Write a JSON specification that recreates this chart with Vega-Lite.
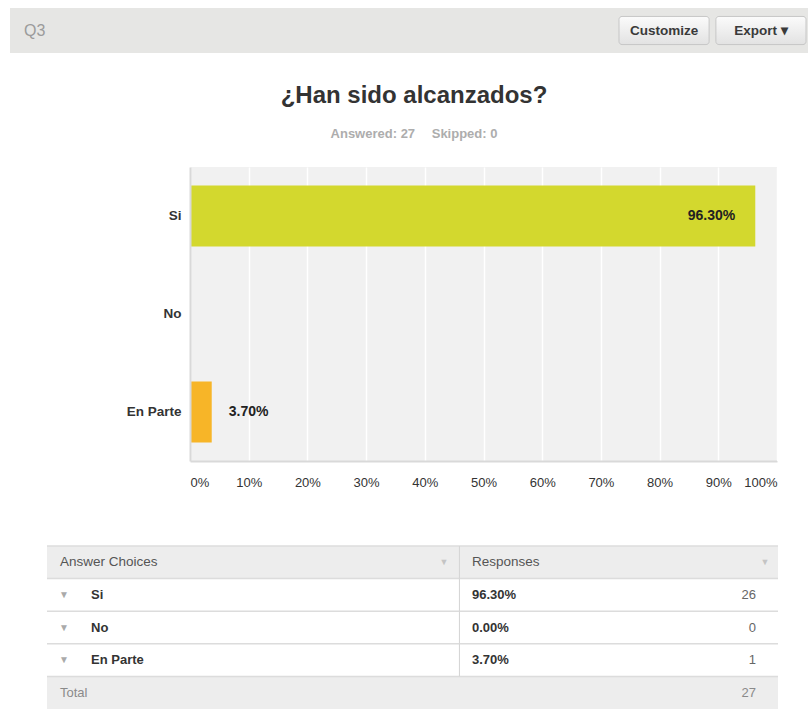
{
  "$schema": "https://vega.github.io/schema/vega-lite/v6.json",
  "background": "#ffffff",
  "padding": {"left": 10, "top": 8, "right": 0, "bottom": 0},
  "config": {
    "font": "Liberation Sans",
    "view": {"stroke": null}
  },
  "datasets": {
    "responses": [
      {"choice": "Si", "share": 0.963, "count": 26},
      {"choice": "No", "share": 0.0, "count": 0},
      {"choice": "En Parte", "share": 0.037, "count": 1}
    ],
    "buttons": [
      {"button": "Customize"},
      {"button": "Export ▾"}
    ],
    "rows": [
      {"row": "header"},
      {"row": "Si"},
      {"row": "No"},
      {"row": "En Parte"},
      {"row": "Total"}
    ]
  },
  "spacing": 31,
  "vconcat": [
    {
      "width": 798,
      "height": 45,
      "view": {"fill": "#e6e6e4", "stroke": null},
      "title": {"text": "Q3", "anchor": "start", "frame": "group", "orient": "top", "offset": -31, "dx": 14, "fontSize": 16, "fontWeight": "normal", "color": "#9b9b9b"},
      "data": {"name": "buttons"},
      "encoding": {
        "x": {"field": "button", "type": "nominal", "sort": null, "axis": null,
              "scale": {"type": "band", "domain": ["Customize", "Export ▾"], "range": [609, 796], "paddingInner": 0.07, "paddingOuter": 0}},
        "y": {"datum": "button", "type": "nominal", "axis": null,
              "scale": {"type": "band", "paddingInner": 0, "paddingOuter": 0.3}}
      },
      "layer": [
        {"mark": {"type": "rect", "cornerRadius": 3, "stroke": "#c6c6c6", "strokeWidth": 1,
                  "fill": {"gradient": "linear", "x1": 0, "y1": 0, "x2": 0, "y2": 1,
                           "stops": [{"offset": 0, "color": "#fbfbfb"}, {"offset": 1, "color": "#e2e2e2"}]}}},
        {"mark": {"type": "text", "fontSize": 13.5, "fontWeight": "bold", "color": "#3a3a3a"},
         "encoding": {"text": {"field": "button"}}}
      ]
    },
    {
      "spacing": 56,
      "vconcat": [
        {
          "width": 798,
          "height": 294,
          "view": {"fill": "#f1f1f1", "stroke": null},
          "title": {"text": "¿Han sido alcanzados?", "subtitle": "Answered: 27\u2003\u00a0Skipped: 0",
                    "anchor": "middle", "frame": "group", "dx": 5, "offset": 26,
                    "fontSize": 24, "fontWeight": "bold", "color": "#333333",
                    "subtitleFontSize": 13, "subtitleFontWeight": "bold", "subtitleColor": "#adadad", "subtitlePadding": 20},
          "data": {"name": "responses"},
          "layer": [
            {"mark": {"type": "bar"},
             "encoding": {
               "y": {"field": "choice", "type": "nominal",
                     "scale": {"domain": ["Si", "No", "En Parte"], "paddingInner": 0.38, "paddingOuter": 0.19},
                     "axis": {"title": null, "orient": "left", "offset": -180, "zindex": 1, "ticks": false,
                              "domain": true, "domainColor": "#d9d9d9", "domainWidth": 2,
                              "labelFontSize": 13.5, "labelFontWeight": "bold", "labelColor": "#333333",
                              "labelPadding": 9, "minExtent": 0}},
               "x": {"field": "share", "type": "quantitative",
                     "scale": {"domain": [0, 1], "range": [180, 767]},
                     "axis": {"title": null, "values": [0, 0.1, 0.2, 0.3, 0.4, 0.5, 0.6, 0.7, 0.8, 0.9, 1],
                              "format": ".0%", "grid": true, "gridColor": "#ffffff", "gridWidth": 1.5,
                              "ticks": false, "domainColor": "#d9d9d9", "domainWidth": 2,
                              "labelFlush": true, "labelPadding": 15, "labelFontSize": 13, "labelColor": "#333333"}},
               "color": {"field": "choice", "type": "nominal",
                         "scale": {"domain": ["Si", "No", "En Parte"], "range": ["#d3d82e", "#8fc4d6", "#f7b528"]},
                         "legend": null}
             }},
            {"data": {"values": [{"mask": "left"}]},
             "mark": {"type": "rect", "fill": "#ffffff", "clip": true},
             "encoding": {"x": {"datum": -1, "type": "quantitative"}, "x2": {"datum": 0}}},
            {"data": {"values": [{"mask": "right"}]},
             "mark": {"type": "rect", "fill": "#ffffff", "clip": true},
             "encoding": {"x": {"datum": 1, "type": "quantitative"}, "x2": {"datum": 2}}},
            {"transform": [{"filter": "datum.share >= 0.5"}],
             "mark": {"type": "text", "align": "right", "baseline": "middle", "dx": -20, "fontSize": 14, "fontWeight": "bold", "color": "#222222"},
             "encoding": {
               "y": {"field": "choice", "type": "nominal"},
               "x": {"field": "share", "type": "quantitative"},
               "text": {"field": "share", "format": ".2%"}
             }},
            {"transform": [{"filter": "datum.share > 0 && datum.share < 0.5"}],
             "mark": {"type": "text", "align": "left", "baseline": "middle", "dx": 17, "fontSize": 14, "fontWeight": "bold", "color": "#222222"},
             "encoding": {
               "y": {"field": "choice", "type": "nominal"},
               "x": {"field": "share", "type": "quantitative"},
               "text": {"field": "share", "format": ".2%"}
             }}
          ]
        },
        {
          "width": 798,
          "height": 163,
          "data": {"name": "rows"},
          "encoding": {
            "y": {"field": "row", "type": "nominal", "axis": null,
                  "scale": {"type": "band", "domain": ["header", "Si", "No", "En Parte", "Total"], "paddingInner": 0, "paddingOuter": 0}}
          },
          "layer": [
            {"transform": [{"filter": "datum.row === 'header' || datum.row === 'Total'"}],
             "mark": {"type": "rect", "fill": "#ededed"},
             "encoding": {
               "x": {"datum": 0, "type": "quantitative", "axis": null, "scale": {"domain": [0, 100], "range": [37, 768]}},
               "x2": {"datum": 100}
             }},
            {"mark": {"type": "rule", "color": "#dcdcdc", "strokeWidth": 1.5},
             "encoding": {
               "x": {"datum": 0, "type": "quantitative", "axis": null},
               "x2": {"datum": 100},
               "y": {"field": "row", "type": "nominal", "bandPosition": 0}
             }},
            {"transform": [{"filter": "datum.row !== 'Total'"}],
             "mark": {"type": "rect", "fill": "#d6d6d6"},
             "encoding": {
               "x": {"datum": 56.35, "type": "quantitative", "axis": null},
               "x2": {"datum": 56.5}
             }},
            {"transform": [{"filter": "datum.row === 'header'"}],
             "mark": {"type": "text", "text": "Answer Choices", "align": "left", "baseline": "middle", "fontSize": 13.5, "color": "#555555"},
             "encoding": {"x": {"datum": 1.78, "type": "quantitative", "axis": null}}},
            {"transform": [{"filter": "datum.row === 'header'"}],
             "mark": {"type": "text", "text": "Responses", "align": "left", "baseline": "middle", "fontSize": 13.5, "color": "#555555"},
             "encoding": {"x": {"datum": 58.14, "type": "quantitative", "axis": null}}},
            {"transform": [{"filter": "datum.row === 'header'"}],
             "mark": {"type": "text", "text": "▼", "align": "center", "baseline": "middle", "fontSize": 9, "color": "#c4c4c4"},
             "encoding": {"x": {"datum": 54.3, "type": "quantitative", "axis": null}}},
            {"transform": [{"filter": "datum.row === 'header'"}],
             "mark": {"type": "text", "text": "▼", "align": "center", "baseline": "middle", "fontSize": 9, "color": "#c4c4c4"},
             "encoding": {"x": {"datum": 98.2, "type": "quantitative", "axis": null}}},
            {"data": {"name": "responses"},
             "mark": {"type": "text", "text": "▼", "align": "center", "baseline": "middle", "fontSize": 10, "color": "#aaaaaa"},
             "encoding": {"x": {"datum": 2.33, "type": "quantitative", "axis": null},
                          "y": {"field": "choice", "type": "nominal"}}},
            {"data": {"name": "responses"},
             "mark": {"type": "text", "align": "left", "baseline": "middle", "fontSize": 13, "fontWeight": "bold", "color": "#333333"},
             "encoding": {"x": {"datum": 6.02, "type": "quantitative", "axis": null},
                          "y": {"field": "choice", "type": "nominal"},
                          "text": {"field": "choice"}}},
            {"data": {"name": "responses"},
             "mark": {"type": "text", "align": "left", "baseline": "middle", "fontSize": 13, "fontWeight": "bold", "color": "#333333"},
             "encoding": {"x": {"datum": 58.14, "type": "quantitative", "axis": null},
                          "y": {"field": "choice", "type": "nominal"},
                          "text": {"field": "share", "format": ".2%"}}},
            {"data": {"name": "responses"},
             "mark": {"type": "text", "align": "right", "baseline": "middle", "fontSize": 13, "color": "#666666"},
             "encoding": {"x": {"datum": 96.99, "type": "quantitative", "axis": null},
                          "y": {"field": "choice", "type": "nominal"},
                          "text": {"field": "count", "type": "quantitative"}}},
            {"transform": [{"filter": "datum.row === 'Total'"}],
             "mark": {"type": "text", "text": "Total", "align": "left", "baseline": "middle", "fontSize": 13, "color": "#8a8a8a"},
             "encoding": {"x": {"datum": 1.78, "type": "quantitative", "axis": null}}},
            {"data": {"name": "responses"},
             "transform": [{"aggregate": [{"op": "sum", "field": "count", "as": "total"}]}],
             "mark": {"type": "text", "align": "right", "baseline": "middle", "fontSize": 13, "color": "#8a8a8a"},
             "encoding": {"x": {"datum": 96.99, "type": "quantitative", "axis": null},
                          "y": {"datum": "Total", "type": "nominal"},
                          "text": {"field": "total", "type": "quantitative"}}}
          ]
        }
      ]
    }
  ]
}
